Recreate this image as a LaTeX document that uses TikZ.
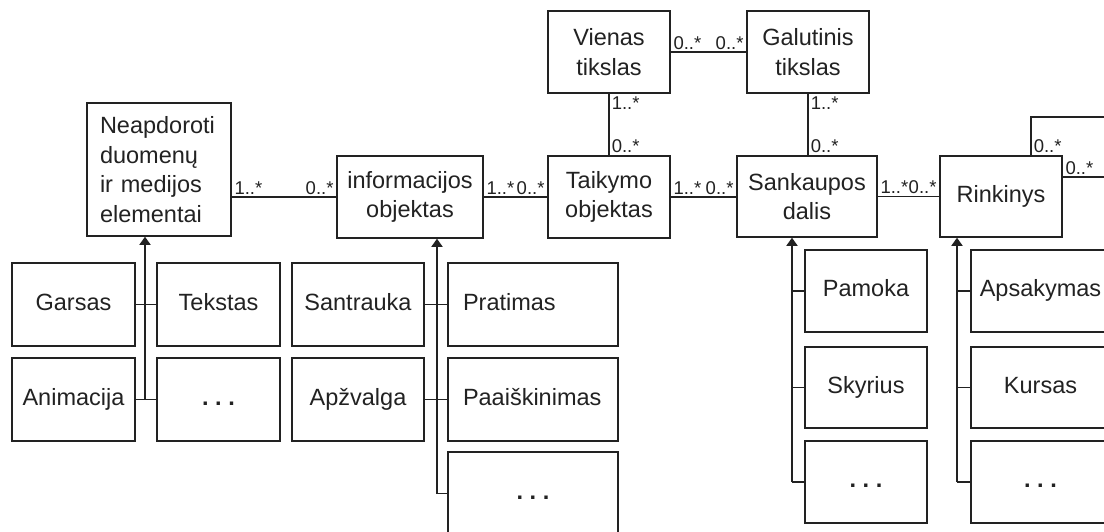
\documentclass[tikz,border=0pt]{standalone}
\usepackage{fontspec}
\setmainfont{Liberation Sans}
\usetikzlibrary{arrows.meta}
\definecolor{ink}{HTML}{222222}
\newcommand\onestrut{\rule[-5.2pt]{0pt}{22pt}}
\newcommand\threedots{\textbf{.\ .\ .}}
\begin{document}
\begin{tikzpicture}[x=1pt,y=-1pt,
  box/.style={draw=ink, line width=1.5pt, text=ink, inner sep=0pt, align=center,
    font=\fontsize{23.5}{29.5}\selectfont},
  std/.style={box, minimum width=122pt, minimum height=82pt},
  kid/.style={box, minimum width=123pt, minimum height=83pt},
  conn/.style={draw=ink, line width=1.5pt},
  gen/.style={conn, -{Triangle[width=11pt,length=8pt]}},
  mult/.style={text=ink, font=\fontsize{18.5}{20}\selectfont, inner sep=2pt}]
\useasboundingbox (0,0) rectangle (1104,531);
\fill[white] (0,0) rectangle (1104,531);
\clip (0,0) rectangle (1104,531);

% upper row
\node[box, minimum width=144pt, minimum height=133pt, text width=118pt, align=left] (neap) at (159,169.5)
  {Neapdoroti\\duomenų\\ir medijos\\elementai};
\node[box, minimum width=146pt, minimum height=82pt] (info) at (410,197) {informacijos\\objektas};
\node[std] (taik) at (609,197) {Taikymo\\objektas};
\node[std] (vien) at (609,52) {Vienas\\tikslas};
\node[std] (galu) at (808,52) {Galutinis\\tikslas};
\node[box, minimum width=140pt, minimum height=81pt] (sank) at (807,196.5) {Sankaupos\\dalis};
\node[box, minimum width=122pt, minimum height=81pt] (rink) at (1001,196.5) {\onestrut Rinkinys};

% children of Neapdoroti
\node[kid] (garsas) at (73.5,304.5) {\onestrut Garsas};
\node[kid] (tekstas) at (218.5,304.5) {\onestrut Tekstas};
\node[kid] (anim) at (73.5,399.5) {\onestrut Animacija};
\node[kid] (dotsa) at (218.5,399.5) {\onestrut\threedots};

% children of informacijos objektas
\node[box, minimum width=132pt, minimum height=83pt] (santr) at (358,304.5) {\onestrut Santrauka};
\node[box, minimum width=132pt, minimum height=83pt] (apzv) at (358,399.5) {\onestrut Apžvalga};
\node[box, minimum width=170pt, minimum height=83pt, text width=140pt, align=left] (prat) at (533,304.5) {\onestrut Pratimas};
\node[box, minimum width=170pt, minimum height=83pt, text width=140pt, align=left] (paai) at (533,399.5) {\onestrut Paaiškinimas};
\node[box, minimum width=170pt, minimum height=83pt] (dotsb) at (533,493.5) {\onestrut\threedots};

% children of Sankaupos dalis
\node[std] (pamoka) at (866,291) {\onestrut Pamoka};
\node[box, minimum width=122pt, minimum height=81pt] (skyr) at (866,387.5) {\onestrut Skyrius};
\node[std] (dotsc) at (866,482) {\onestrut\threedots};

% children of Rinkinys
\node[box, minimum width=139pt, minimum height=82pt] (aps) at (1040.5,291) {\onestrut Apsakymas};
\node[box, minimum width=139pt, minimum height=81pt] (kurs) at (1040.5,387.5) {\onestrut Kursas};
\node[box, minimum width=139pt, minimum height=82pt] (dotsd) at (1040.5,482) {\onestrut\threedots};

% associations
\draw[conn] (neap.east |- info.west) -- node[mult,pos=0,anchor=south west]{1..*}
  node[mult,pos=1,anchor=south east]{0..*} (info.west);
\draw[conn] (info.east) -- node[mult,pos=0,anchor=south west]{1..*}
  node[mult,pos=1,anchor=south east]{0..*} (taik.west);
\draw[conn] (taik.east) -- node[mult,pos=0,anchor=south west]{1..*}
  node[mult,pos=1,anchor=south east]{0..*} (taik.east -| sank.west);
\draw[conn] (sank.east) -- node[mult,pos=0,anchor=south west]{1..*}
  node[mult,pos=1,anchor=south east]{0..*} (rink.west);
\draw[conn] (vien.south) -- node[mult,pos=0,anchor=north west]{1..*}
  node[mult,pos=1,anchor=south west]{0..*} (taik.north);
\draw[conn] (vien.east) -- node[mult,pos=0,anchor=south west]{0..*}
  node[mult,pos=1,anchor=south east]{0..*} (galu.west);
\draw[conn] (galu.south) -- node[mult,pos=0,anchor=north west]{1..*}
  node[mult,pos=1,anchor=south west]{0..*} (galu.south |- sank.north);

% self association of Rinkinys (leaves the picture)
\coordinate (loopa) at (1031,117);
\coordinate (loopb) at (1112,117);
\coordinate (loopc) at (1112,177);
\draw[conn] (rink.north -| loopa) -- node[mult,pos=0,anchor=south west]{0..*} (loopa) -- (loopb);
\draw[conn] (rink.east |- loopc) -- node[mult,pos=0,anchor=south west]{0..*} (loopc);

% generalisations
\coordinate (ja) at (145,399.5);
\draw[gen] (ja) -- (neap.south -| ja);
\draw[conn] (garsas.east) -- (tekstas.west);
\draw[conn] (anim.east) -- (dotsa.west);

\coordinate (jb) at (437,493.5);
\draw[gen] (jb) -- (info.south -| jb);
\draw[conn] (jb) -- (dotsb.west);
\draw[conn] (santr.east) -- (prat.west);
\draw[conn] (apzv.east) -- (paai.west);

\coordinate (jc) at (792,482);
\draw[gen] (jc) -- (sank.south -| jc);
\draw[conn] (pamoka.west -| jc) -- (pamoka.west);
\draw[conn] (skyr.west -| jc) -- (skyr.west);
\draw[conn] (jc) -- (dotsc.west);

\coordinate (jd) at (957,482);
\draw[gen] (jd) -- (rink.south -| jd);
\draw[conn] (aps.west -| jd) -- (aps.west);
\draw[conn] (kurs.west -| jd) -- (kurs.west);
\draw[conn] (jd) -- (dotsd.west);
\end{tikzpicture}
\end{document}
